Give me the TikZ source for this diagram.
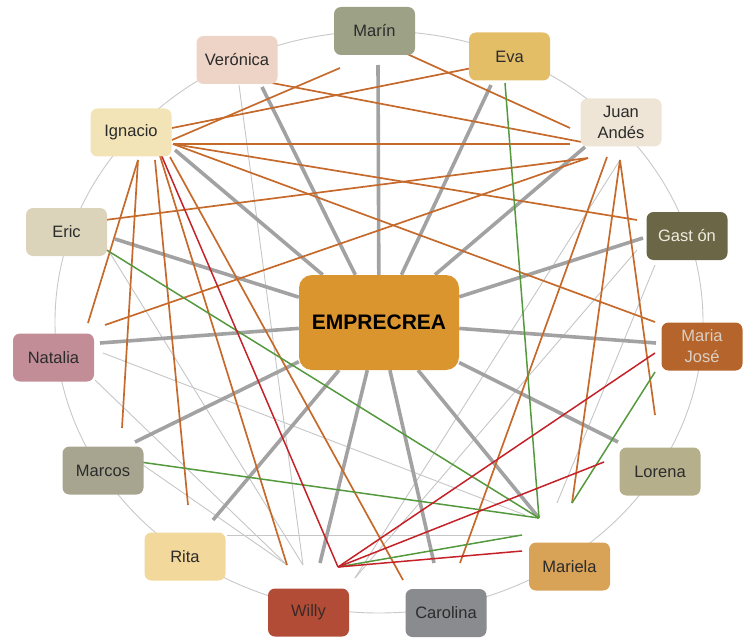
\documentclass[tikz,border=0pt]{standalone}
\usepackage{fontspec}
\setmainfont{Liberation Sans}
\usetikzlibrary{backgrounds}
\definecolor{hubfill}{HTML}{DA952F}
\definecolor{marinfill}{HTML}{9DA287}
\definecolor{evafill}{HTML}{E3BE66}
\definecolor{juanfill}{HTML}{EEE5D6}
\definecolor{gastonfill}{HTML}{6B6646}
\definecolor{mjosefill}{HTML}{B5652B}
\definecolor{lorenafill}{HTML}{B5AF8C}
\definecolor{marielafill}{HTML}{D8A257}
\definecolor{carolinafill}{HTML}{898B8F}
\definecolor{willyfill}{HTML}{B24C37}
\definecolor{ritafill}{HTML}{F2D89B}
\definecolor{marcosfill}{HTML}{A7A590}
\definecolor{nataliafill}{HTML}{C28D97}
\definecolor{ericfill}{HTML}{DCD4BA}
\definecolor{ignaciofill}{HTML}{F2E4B6}
\definecolor{veronicafill}{HTML}{EDD4C7}
\definecolor{darktext}{HTML}{2B2B2B}
\definecolor{lighttext}{HTML}{EFEDE0}
\definecolor{mjosetext}{HTML}{DCCFC4}
\definecolor{willytext}{HTML}{3A2A26}
\definecolor{spokegray}{HTML}{A2A2A2}
\definecolor{tiegray}{HTML}{C6C6C6}
\definecolor{ringgray}{HTML}{C8C8C8}
\definecolor{linkorange}{HTML}{C66A2C}
\definecolor{linkgreen}{HTML}{55993F}
\definecolor{linkred}{HTML}{C42128}
\tikzset{
  person/.style={rectangle, rounded corners=7pt, align=center, text=darktext,
                 minimum width=81pt, minimum height=48pt, inner sep=2pt,
                 font=\fontsize{16.5}{21}\selectfont},
  hub/.style={rectangle, rounded corners=13pt, fill=hubfill, text=black,
              minimum width=160pt, minimum height=95pt,
              font=\fontsize{21}{25}\selectfont\bfseries},
  ring/.style={line width=0.9pt, draw=ringgray},
  spoke/.style={line width=3.6pt, draw=spokegray},
  tie/.style={line width=0.9pt, draw=tiegray},
  olink/.style={line width=1.7pt, draw=linkorange},
  glink/.style={line width=1.5pt, draw=linkgreen},
  rlink/.style={line width=1.5pt, draw=linkred},
}

\begin{document}
\begin{tikzpicture}[x=1pt, y=-1pt]
\useasboundingbox (0,0) rectangle (743,639);

% Members around the ring, clockwise from the top
\node[person, fill=marinfill]    (marin)    at (374.5,31)    {Marín};
\node[person, fill=evafill]      (eva)      at (509.5,56.5)  {Eva};
\node[person, fill=juanfill]     (juan)     at (621,122.5)   {Juan\\Andés};
\node[person, fill=gastonfill, text=lighttext] (gaston) at (687,236) {Gast ón};
\node[person, fill=mjosefill, text=mjosetext]  (mjose)  at (702,346.5) {Maria\\José};
\node[person, fill=lorenafill]   (lorena)   at (660,471.5)   {Lorena};
\node[person, fill=marielafill]  (mariela)  at (569.5,566.5) {Mariela};
\node[person, fill=carolinafill] (carolina) at (446,613)     {Carolina};
\node[person, fill=willyfill, text=willytext]  (willy)  at (308.5,612.5) {Willy};
\node[person, fill=ritafill]     (rita)     at (185,556.5)   {Rita};
\node[person, fill=marcosfill]   (marcos)   at (103,470.5)   {Marcos};
\node[person, fill=nataliafill]  (natalia)  at (53.5,357.5)  {Natalia};
\node[person, fill=ericfill]     (eric)     at (66.5,232)    {Eric};
\node[person, fill=ignaciofill]  (ignacio)  at (131,132.5)   {Ignacio};
\node[person, fill=veronicafill] (veronica) at (237,60)      {Verónica};

\node[hub] (hub) at (379,322.5) {EMPRECREA};

% Line ends: the links stop a little short of the boxes
\coordinate (marin-s) at (378,65);   \coordinate (marin-o) at (340,68);
\coordinate (marin-p) at (405,53);
\coordinate (eva-s) at (491,85);     \coordinate (eva-o) at (472,68);
\coordinate (eva-g) at (505,83);
\coordinate (juan-s) at (585,147);   \coordinate (juan-a) at (570,128);
\coordinate (juan-b) at (587,143);   \coordinate (juan-c) at (570,144);
\coordinate (juan-d) at (588,158);   \coordinate (juan-e) at (607,157);
\coordinate (juan-f) at (620,160);
\coordinate (gaston-s) at (643,238); \coordinate (gaston-o) at (637,220);
\coordinate (gaston-t) at (637,250); \coordinate (gaston-u) at (655,265);
\coordinate (mjose-s) at (656,343);  \coordinate (mjose-o) at (655,322);
\coordinate (mjose-r) at (655,353);  \coordinate (mjose-g) at (655,372);
\coordinate (lorena-s) at (618,442); \coordinate (lorena-o) at (655,415);
\coordinate (lorena-r) at (604,462);
\coordinate (mariela-s) at (539,518); \coordinate (mariela-a) at (572,503);
\coordinate (mariela-t) at (557,503); \coordinate (mariela-n) at (525,515);
\coordinate (mariela-h) at (522,535); \coordinate (mariela-r) at (522,551);
\coordinate (carolina-s) at (434,563); \coordinate (carolina-o) at (403,580);
\coordinate (carolina-p) at (460,563);
\coordinate (willy-s) at (320,563);  \coordinate (willy-a) at (287,565);
\coordinate (willy-b) at (303,565);  \coordinate (willy-c) at (338,567);
\coordinate (willy-d) at (355,578);
\coordinate (rita-s) at (213,520);   \coordinate (rita-o) at (188,505);
\coordinate (rita-t) at (227,535);
\coordinate (marcos-s) at (135,442); \coordinate (marcos-o) at (122,428);
\coordinate (marcos-g) at (140,462); \coordinate (marcos-t) at (143,465);
\coordinate (natalia-s) at (100,343); \coordinate (natalia-o) at (88,323);
\coordinate (natalia-p) at (105,325); \coordinate (natalia-t) at (103,353);
\coordinate (natalia-u) at (95,380);
\coordinate (eric-s) at (115,239);   \coordinate (eric-o) at (105,220);
\coordinate (eric-g) at (105,249);   \coordinate (eric-t) at (110,253);
\coordinate (ignacio-s) at (175,150); \coordinate (ignacio-a) at (172,128);
\coordinate (ignacio-b) at (172,140); \coordinate (ignacio-c) at (173,144);
\coordinate (ignacio-f) at (138,160); \coordinate (ignacio-g) at (155,160);
\coordinate (ignacio-h) at (157,145); \coordinate (ignacio-i) at (160,156);
\coordinate (ignacio-j) at (170,157);
\coordinate (veronica-s) at (262,87); \coordinate (veronica-o) at (272,83);
\coordinate (veronica-t) at (239,85);

\begin{scope}[on background layer]
  \draw[ring] (379,322) ellipse [x radius=324pt, y radius=291pt];

  % weak ties
  \draw[tie] (veronica-t) -- (willy-b);
  \draw[tie] (eric-t) -- (willy-b);
  \draw[tie] (natalia-u) -- (willy-a);
  \draw[tie] (marcos-t) -- (willy-a);
  \draw[tie] (natalia-t) -- (mariela-n);
  \draw[tie] (rita-t) -- (mariela-h);
  \draw[tie] (juan-f) -- (willy-d);
  \draw[tie] (gaston-t) -- (willy-d);
  \draw[tie] (gaston-u) -- (mariela-t);

  % everyone to the hub
  \foreach \p in {marin, eva, juan, gaston, mjose, lorena, mariela, carolina,
                  willy, rita, marcos, natalia, eric, ignacio, veronica}
    \draw[spoke] (hub) -- (\p-s);

  % orange links
  \draw[olink] (ignacio-b) -- (marin-o);
  \draw[olink] (ignacio-a) -- (eva-o);
  \draw[olink] (veronica-o) -- (juan-b);
  \draw[olink] (marin-p) -- (juan-a);
  \draw[olink] (ignacio-c) -- (juan-c);
  \draw[olink] (ignacio-c) -- (gaston-o);
  \draw[olink] (ignacio-c) -- (mjose-o);
  \draw[olink] (eric-o) -- (juan-d);
  \draw[olink] (natalia-p) -- (juan-d);
  \draw[olink] (ignacio-f) -- (natalia-o);
  \draw[olink] (ignacio-f) -- (marcos-o);
  \draw[olink] (ignacio-g) -- (rita-o);
  \draw[olink] (ignacio-i) -- (willy-a);
  \draw[olink] (ignacio-j) -- (carolina-o);
  \draw[olink] (juan-e) -- (carolina-p);
  \draw[olink] (juan-f) -- (mariela-a);
  \draw[olink] (juan-f) -- (lorena-o);

  % green links
  \draw[glink] (eva-g) -- (mariela-s);
  \draw[glink] (eric-g) -- (mariela-s);
  \draw[glink] (marcos-g) -- (mariela-s);
  \draw[glink] (mjose-g) -- (mariela-a);
  \draw[glink] (willy-c) -- (mariela-h);

  % red links
  \draw[rlink] (ignacio-h) -- (willy-c);
  \draw[rlink] (willy-c) -- (mjose-r);
  \draw[rlink] (willy-c) -- (lorena-r);
  \draw[rlink] (willy-c) -- (mariela-r);
\end{scope}

\end{tikzpicture}
\end{document}
